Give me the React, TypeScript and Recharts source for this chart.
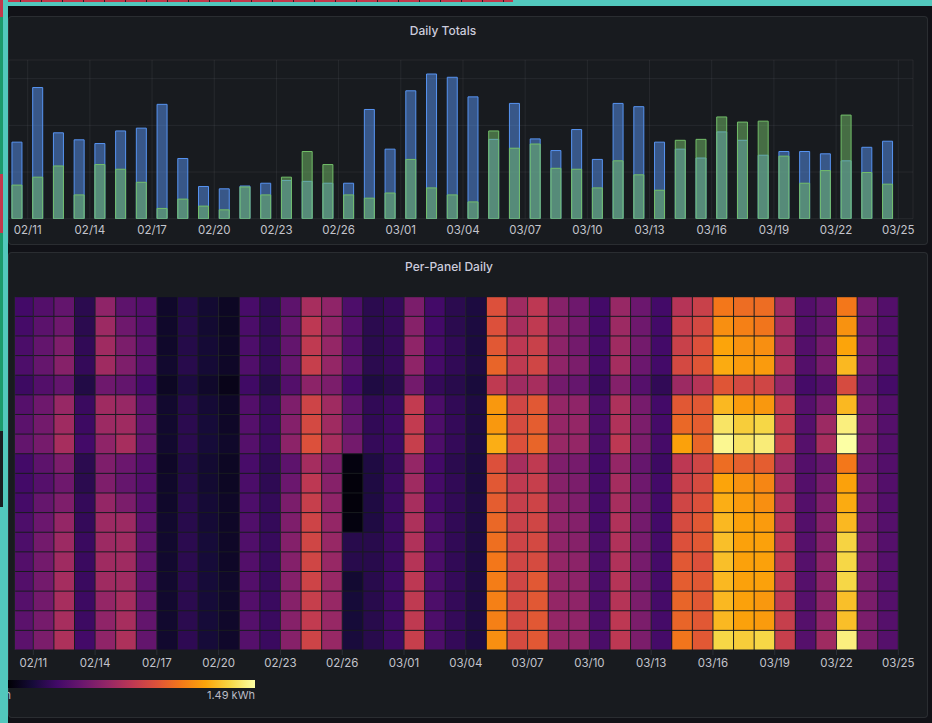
import { BarChart, Bar, XAxis, YAxis, CartesianGrid, ScatterChart, Scatter } from "recharts";

// 02/10 .. 03/24
const days = [
  "02/10", "02/11", "02/12", "02/13", "02/14", "02/15", "02/16", "02/17", "02/18", "02/19",
  "02/20", "02/21", "02/22", "02/23", "02/24", "02/25", "02/26", "02/27", "02/28", "03/01",
  "03/02", "03/03", "03/04", "03/05", "03/06", "03/07", "03/08", "03/09", "03/10", "03/11",
  "03/12", "03/13", "03/14", "03/15", "03/16", "03/17", "03/18", "03/19", "03/20", "03/21",
  "03/22", "03/23", "03/24",
];

// tick positions are day boundaries (0 = start of 02/10)
const tickDays = [1, 4, 7, 10, 13, 16, 19, 22, 25, 28, 31, 34, 37, 40, 43];
const tickLabels = [
  "02/11", "02/14", "02/17", "02/20", "02/23", "02/26", "03/01", "03/04",
  "03/07", "03/10", "03/13", "03/16", "03/19", "03/22", "03/25",
];

// kWh per day
const consumption = [
  16.4, 28.1, 18.4, 16.9, 16.1, 18.8, 19.4, 24.5, 12.9, 6.9,
  6.4, 7.0, 7.6, 8.2, 8.0, 7.6, 7.6, 23.4, 14.9, 27.4,
  31.0, 30.3, 26.1, 17.0, 24.7, 17.1, 14.6, 19.1, 12.7, 24.7,
  24.0, 16.4, 14.9, 13.0, 18.6, 16.8, 13.6, 14.4, 14.4, 13.9,
  12.4, 15.3, 16.6,
];
const production = [
  7.2, 8.9, 11.3, 5.1, 11.6, 10.6, 7.8, 2.2, 4.2, 2.7,
  1.9, 6.8, 5.1, 8.9, 14.4, 11.6, 5.1, 4.4, 5.5, 12.7,
  6.6, 5.1, 3.6, 18.8, 15.1, 16.0, 10.8, 10.6, 6.6, 12.4,
  9.4, 6.1, 16.8, 17.0, 21.8, 20.7, 20.9, 13.4, 7.6, 10.3,
  22.2, 9.9, 7.4,
];
const totalTicks = [0, 10, 20, 30];

// one entry per day, 18 panels listed top row to bottom row (kWh)
const panelDaily = [
  [0.30, 0.31, 0.33, 0.34, 0.28, 0.37, 0.39, 0.42, 0.30, 0.30, 0.31, 0.34, 0.34, 0.36, 0.36, 0.37, 0.39, 0.39],
  [0.36, 0.39, 0.42, 0.43, 0.36, 0.46, 0.48, 0.49, 0.40, 0.37, 0.43, 0.45, 0.48, 0.48, 0.48, 0.48, 0.49, 0.51],
  [0.42, 0.46, 0.52, 0.55, 0.42, 0.61, 0.64, 0.67, 0.51, 0.46, 0.52, 0.60, 0.63, 0.64, 0.66, 0.67, 0.67, 0.69],
  [0.22, 0.22, 0.24, 0.25, 0.19, 0.27, 0.28, 0.30, 0.22, 0.22, 0.25, 0.25, 0.27, 0.27, 0.27, 0.28, 0.28, 0.30],
  [0.58, 0.63, 0.64, 0.64, 0.46, 0.64, 0.63, 0.58, 0.52, 0.52, 0.60, 0.63, 0.63, 0.64, 0.64, 0.60, 0.58, 0.58],
  [0.40, 0.46, 0.51, 0.52, 0.42, 0.61, 0.64, 0.67, 0.45, 0.43, 0.51, 0.63, 0.64, 0.64, 0.64, 0.66, 0.67, 0.69],
  [0.36, 0.37, 0.39, 0.39, 0.31, 0.40, 0.42, 0.42, 0.36, 0.36, 0.37, 0.39, 0.40, 0.40, 0.40, 0.42, 0.42, 0.42],
  [0.11, 0.11, 0.11, 0.12, 0.09, 0.12, 0.12, 0.12, 0.10, 0.11, 0.11, 0.12, 0.12, 0.12, 0.12, 0.12, 0.12, 0.12],
  [0.19, 0.20, 0.20, 0.21, 0.17, 0.21, 0.22, 0.22, 0.19, 0.20, 0.21, 0.21, 0.22, 0.22, 0.22, 0.22, 0.22, 0.23],
  [0.13, 0.13, 0.14, 0.14, 0.11, 0.14, 0.15, 0.15, 0.13, 0.13, 0.14, 0.14, 0.15, 0.15, 0.15, 0.15, 0.15, 0.15],
  [0.09, 0.09, 0.10, 0.10, 0.06, 0.10, 0.10, 0.11, 0.09, 0.09, 0.10, 0.10, 0.10, 0.10, 0.11, 0.11, 0.11, 0.11],
  [0.32, 0.33, 0.34, 0.35, 0.29, 0.36, 0.37, 0.37, 0.32, 0.33, 0.34, 0.35, 0.35, 0.36, 0.36, 0.36, 0.37, 0.37],
  [0.23, 0.24, 0.25, 0.25, 0.20, 0.26, 0.27, 0.27, 0.23, 0.23, 0.25, 0.25, 0.26, 0.26, 0.26, 0.27, 0.27, 0.27],
  [0.40, 0.42, 0.42, 0.43, 0.36, 0.52, 0.54, 0.57, 0.40, 0.45, 0.51, 0.52, 0.54, 0.54, 0.54, 0.55, 0.55, 0.55],
  [0.67, 0.75, 0.76, 0.79, 0.57, 0.82, 0.85, 0.89, 0.66, 0.75, 0.79, 0.82, 0.83, 0.83, 0.82, 0.79, 0.77, 0.82],
  [0.58, 0.58, 0.60, 0.60, 0.51, 0.64, 0.64, 0.67, 0.52, 0.55, 0.58, 0.60, 0.61, 0.61, 0.61, 0.61, 0.61, 0.61],
  [0.34, 0.36, 0.36, 0.39, 0.30, 0.40, 0.43, 0.48, 0.03, 0.02, 0.02, 0.03, 0.21, 0.21, 0.13, 0.15, 0.15, 0.16],
  [0.22, 0.22, 0.22, 0.22, 0.18, 0.24, 0.24, 0.25, 0.18, 0.18, 0.18, 0.18, 0.21, 0.21, 0.21, 0.21, 0.21, 0.21],
  [0.25, 0.25, 0.25, 0.25, 0.21, 0.27, 0.28, 0.28, 0.25, 0.27, 0.27, 0.27, 0.27, 0.27, 0.28, 0.28, 0.28, 0.28],
  [0.51, 0.55, 0.58, 0.58, 0.48, 0.77, 0.77, 0.79, 0.60, 0.64, 0.67, 0.69, 0.70, 0.72, 0.75, 0.76, 0.76, 0.79],
  [0.30, 0.30, 0.31, 0.31, 0.25, 0.33, 0.34, 0.34, 0.30, 0.31, 0.31, 0.33, 0.33, 0.33, 0.34, 0.34, 0.34, 0.34],
  [0.22, 0.22, 0.24, 0.24, 0.21, 0.24, 0.25, 0.25, 0.22, 0.24, 0.24, 0.24, 0.24, 0.24, 0.25, 0.25, 0.25, 0.25],
  [0.17, 0.17, 0.17, 0.18, 0.16, 0.18, 0.18, 0.18, 0.17, 0.17, 0.18, 0.18, 0.18, 0.18, 0.18, 0.18, 0.18, 0.18],
  [0.89, 0.89, 0.92, 0.97, 0.76, 1.15, 1.15, 1.22, 0.89, 0.92, 0.94, 0.98, 1.01, 1.04, 1.06, 1.07, 1.07, 1.12],
  [0.64, 0.67, 0.75, 0.76, 0.64, 0.83, 0.86, 0.89, 0.67, 0.76, 0.79, 0.80, 0.82, 0.83, 0.83, 0.85, 0.85, 0.86],
  [0.75, 0.76, 0.80, 0.83, 0.67, 0.92, 0.94, 0.97, 0.76, 0.79, 0.82, 0.83, 0.85, 0.86, 0.92, 0.92, 0.92, 0.92],
  [0.55, 0.57, 0.57, 0.58, 0.48, 0.60, 0.60, 0.61, 0.52, 0.55, 0.57, 0.58, 0.58, 0.60, 0.60, 0.60, 0.60, 0.60],
  [0.46, 0.48, 0.48, 0.51, 0.43, 0.58, 0.60, 0.60, 0.49, 0.51, 0.52, 0.54, 0.55, 0.57, 0.57, 0.58, 0.58, 0.58],
  [0.30, 0.30, 0.31, 0.31, 0.27, 0.33, 0.33, 0.33, 0.30, 0.31, 0.31, 0.31, 0.33, 0.33, 0.33, 0.33, 0.33, 0.33],
  [0.61, 0.63, 0.64, 0.66, 0.54, 0.69, 0.70, 0.75, 0.60, 0.66, 0.67, 0.70, 0.70, 0.70, 0.72, 0.72, 0.75, 0.75],
  [0.45, 0.46, 0.48, 0.45, 0.37, 0.49, 0.51, 0.51, 0.43, 0.46, 0.48, 0.48, 0.49, 0.49, 0.49, 0.51, 0.51, 0.51],
  [0.30, 0.30, 0.30, 0.30, 0.24, 0.30, 0.31, 0.31, 0.28, 0.30, 0.30, 0.30, 0.31, 0.31, 0.31, 0.31, 0.31, 0.31],
  [0.72, 0.79, 0.80, 0.85, 0.63, 0.92, 0.98, 1.18, 0.75, 0.79, 0.83, 0.86, 0.89, 0.92, 0.94, 0.97, 0.97, 1.03],
  [0.80, 0.85, 0.89, 0.91, 0.72, 0.92, 0.94, 0.97, 0.83, 0.86, 0.89, 0.92, 0.92, 0.89, 0.92, 0.92, 0.92, 0.92],
  [1.04, 1.12, 1.19, 1.21, 0.91, 1.25, 1.39, 1.46, 1.00, 1.19, 1.22, 1.25, 1.27, 1.27, 1.25, 1.25, 1.25, 1.34],
  [1.00, 1.07, 1.13, 1.16, 0.85, 1.16, 1.31, 1.39, 0.95, 1.13, 1.16, 1.18, 1.18, 1.18, 1.18, 1.18, 1.18, 1.31],
  [1.00, 1.03, 1.12, 1.16, 0.83, 1.15, 1.34, 1.42, 0.94, 1.09, 1.12, 1.16, 1.18, 1.18, 1.18, 1.15, 1.16, 1.34],
  [0.64, 0.66, 0.67, 0.70, 0.60, 0.76, 0.76, 0.79, 0.64, 0.67, 0.70, 0.72, 0.75, 0.76, 0.76, 0.76, 0.79, 0.79],
  [0.36, 0.36, 0.36, 0.36, 0.31, 0.37, 0.37, 0.37, 0.36, 0.36, 0.36, 0.36, 0.37, 0.37, 0.37, 0.37, 0.37, 0.37],
  [0.42, 0.43, 0.48, 0.49, 0.36, 0.49, 0.63, 0.67, 0.43, 0.49, 0.52, 0.54, 0.54, 0.57, 0.57, 0.57, 0.58, 0.64],
  [1.04, 1.13, 1.19, 1.25, 0.86, 1.25, 1.43, 1.49, 1.04, 1.18, 1.21, 1.25, 1.33, 1.34, 1.34, 1.27, 1.27, 1.43],
  [0.48, 0.46, 0.49, 0.49, 0.43, 0.49, 0.51, 0.51, 0.46, 0.49, 0.49, 0.49, 0.51, 0.51, 0.51, 0.51, 0.51, 0.51],
  [0.36, 0.36, 0.36, 0.36, 0.31, 0.37, 0.37, 0.37, 0.36, 0.36, 0.36, 0.37, 0.37, 0.37, 0.37, 0.37, 0.37, 0.37],
];
const PANEL_COUNT = 18;
const MAX_KWH = 1.49;

const INFERNO = [
  "#000004", "#160b39", "#420a68", "#6a176e", "#932667", "#bc3754",
  "#dd513a", "#f37819", "#fca50a", "#f6d746", "#fcffa4",
];

function inferno(t: number) {
  const c = Math.max(0, Math.min(1, t)) * (INFERNO.length - 1);
  const i = Math.min(Math.floor(c), INFERNO.length - 2);
  const f = c - i;
  const a = INFERNO[i], b = INFERNO[i + 1];
  const ch = (h: string, k: number) => parseInt(h.slice(1 + k * 2, 3 + k * 2), 16);
  const mix = [0, 1, 2].map(k => Math.round(ch(a, k) + (ch(b, k) - ch(a, k)) * f));
  return `rgb(${mix.join(",")})`;
}

const BG = "#111217";
const PANEL = "#181b1f";
const TEXT = "#ccccdc";
const GRID = "rgba(204,204,220,0.08)";
const TEAL = "#52c8bd";
const FONT = "Inter, 'Noto Sans', sans-serif";

const fmtTick = (v: number) => tickLabels[tickDays.indexOf(Math.round(v))] ?? "";

// heatmap cell size in px (plot 883.3 x 353.3)
const CELL_W = 883.3 / (43 - 0.111);
const CELL_H = 353.3 / PANEL_COUNT;

function Cell(props: any) {
  const { cx, cy, payload } = props;
  if (cx == null || cy == null) return null;
  return (
    <rect
      x={cx - CELL_W / 2 + 0.5}
      y={cy - CELL_H / 2 + 0.5}
      width={CELL_W - 1}
      height={CELL_H - 1}
      fill={inferno(payload.v / MAX_KWH)}
    />
  );
}

function Panel({ top, height, title, titleX }: { top: number; height: number; title: string; titleX: number }) {
  return (
    <>
      <div style={{ position: "absolute", left: 8, top, width: 920, height, background: PANEL, border: "1px solid rgba(204,204,220,0.1)", borderRadius: 4, boxSizing: "border-box" }} />
      <div style={{ position: "absolute", left: titleX, top: top + 7, transform: "translateX(-50%)", color: TEXT, fontFamily: FONT, fontSize: 12, fontWeight: 500, lineHeight: "16px", whiteSpace: "nowrap" }}>{title}</div>
    </>
  );
}

export default function App() {
  const barData = days.map((d, i) => ({ x: i + 0.5, day: d, consumption: consumption[i], production: production[i] }));
  const cells = panelDaily.flatMap((vals, i) => vals.map((v, r) => ({ x: i + 0.5, y: PANEL_COUNT - r - 0.5, v })));
  const rowTicks = Array.from({ length: PANEL_COUNT }, (_, r) => r + 0.5);
  const tickStyle = { fill: "#c3c4cc", fontSize: 11.5, fontFamily: FONT };

  return (
    <div style={{ position: "absolute", left: 0, top: 0, width: 932, height: 723, background: BG, overflow: "hidden" }}>
      <Panel top={16} height={229} title="Daily Totals" titleX={443} />
      <Panel top={252} height={466} title="Per-Panel Daily" titleX={449} />

      <div style={{ position: "absolute", left: 0, top: 0 }}>
        <BarChart width={932} height={245} data={barData} margin={{ top: 60, right: 19, bottom: 6.3, left: 9 }} barGap={-10}>
          <CartesianGrid stroke={GRID} />
          <XAxis
            dataKey="x" type="number" domain={[0.098, 43.71]} allowDataOverflow
            ticks={tickDays} interval={0} tickFormatter={fmtTick}
            axisLine={false} tickLine={false} tickSize={7} tickMargin={0} height={20}
            tick={tickStyle}
          />
          <YAxis hide type="number" domain={[0, 34]} ticks={totalTicks} allowDataOverflow />
          <Bar dataKey="consumption" barSize={10} fill="#5794f2" fillOpacity={0.5} stroke="#5794f2" strokeWidth={1} isAnimationActive={false} />
          <Bar dataKey="production" barSize={10} fill="#73bf69" fillOpacity={0.5} stroke="#73bf69" strokeWidth={1} isAnimationActive={false} />
        </BarChart>
      </div>

      <div style={{ position: "absolute", left: 0, top: 280 }}>
        <ScatterChart width={932} height={400} margin={{ top: 16.7, right: 13.7, bottom: 5, left: 15 }}>
          <CartesianGrid stroke={GRID} horizontal={false} />
          <XAxis
            dataKey="x" type="number" domain={[0.111, 43]} allowDataOverflow
            ticks={tickDays} interval={0} tickFormatter={fmtTick}
            axisLine={false} tickLine={{ stroke: "#2c2f36" }} tickSize={5} tickMargin={4} height={25}
            tick={tickStyle}
          />
          <YAxis
            dataKey="y" type="number" orientation="right" domain={[0, PANEL_COUNT]} allowDataOverflow
            ticks={rowTicks} interval={0} tick={false} tickLine={{ stroke: "#2c2f36" }} tickSize={14}
            axisLine={false} width={20}
          />
          <Scatter data={cells} shape={Cell} isAnimationActive={false} />
        </ScatterChart>
      </div>

      {/* color scale legend */}
      <div style={{ position: "absolute", left: 8, top: 679.5, width: 247, height: 8, background: `linear-gradient(to right, ${INFERNO.join(",")})` }} />
      <div style={{ position: "absolute", right: 932 - 255, top: 688, color: "#b9bac4", fontFamily: FONT, fontSize: 11, lineHeight: "14px" }}>1.49 kWh</div>
      <div style={{ position: "absolute", right: 932 - 11, top: 688, color: "#b9bac4", fontFamily: FONT, fontSize: 11, lineHeight: "14px", whiteSpace: "nowrap" }}>0 kWh</div>

      {/* window frame */}
      <div style={{ position: "absolute", left: 0, top: 0, width: 932, height: 6, background: TEAL }} />
      <div style={{ position: "absolute", left: 0, top: 0, width: 513, height: 1.7, background: "repeating-linear-gradient(to right, #c3394c 0 20px, #2a1e22 20px 21px)" }} />
      <div style={{ position: "absolute", left: 3, top: 0, width: 5.3, height: 723, background: TEAL }} />
      <div style={{ position: "absolute", left: 0, top: 0, width: 3, height: 507, background: "linear-gradient(to bottom, #c3394c 0 17px, #1c9a6c 17px 174px, #c3394c 174px 233px, #1c9a6c 233px 431px, #1a1d20 431px 507px)" }} />
      <div style={{ position: "absolute", left: 0, top: 507, width: 3, height: 216, background: TEAL }} />
    </div>
  );
}
